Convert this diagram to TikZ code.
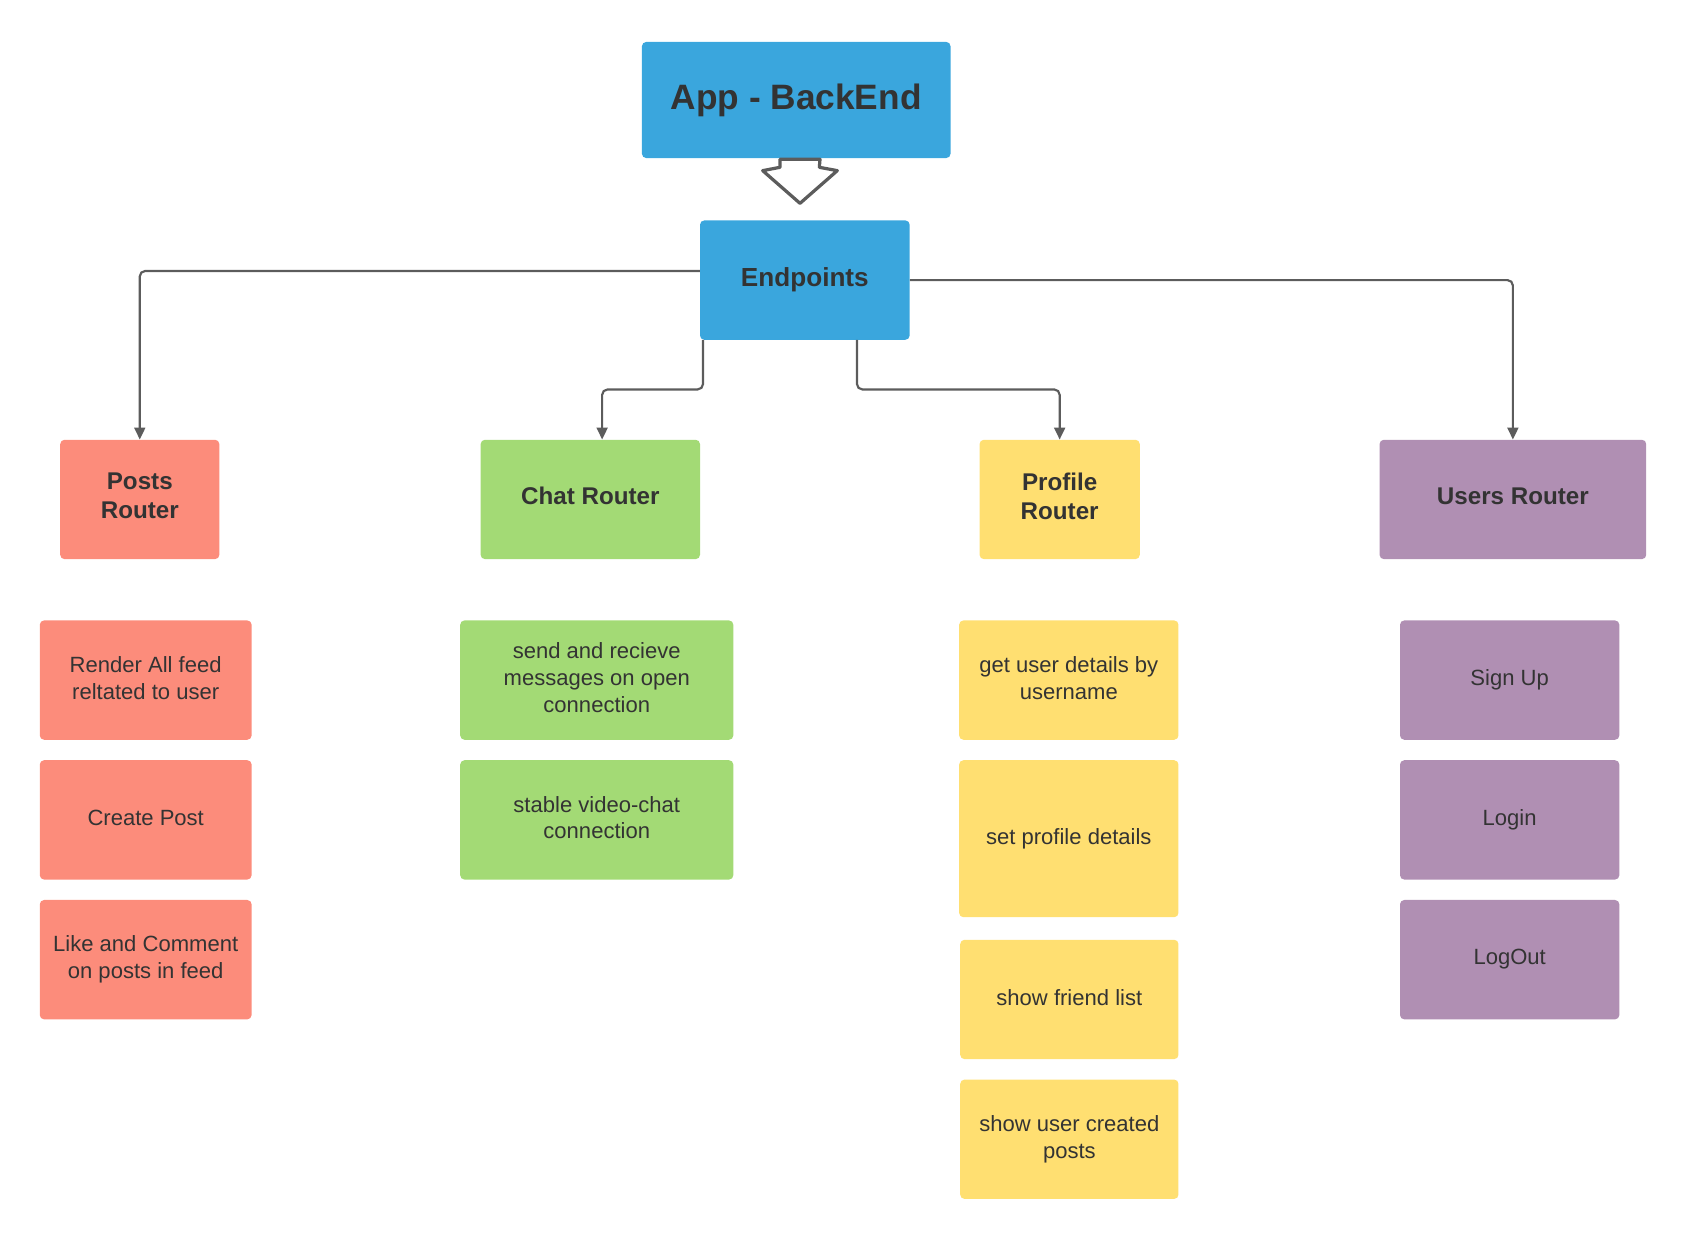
\documentclass[tikz,border=0pt]{standalone}
\usepackage{fontspec}
\setmainfont{Liberation Sans}
\usetikzlibrary{arrows.meta}
\definecolor{cblue}{HTML}{3AA6DD}
\definecolor{cred}{HTML}{FC8C7B}
\definecolor{cgreen}{HTML}{A3DA75}
\definecolor{cyellow}{HTML}{FFDF71}
\definecolor{cpurple}{HTML}{B08FB3}
\definecolor{ctext}{HTML}{333333}
\definecolor{cline}{HTML}{5C5C5C}
\tikzset{
  box/.style={rectangle, rounded corners=4pt, inner sep=0pt, align=center, text=ctext},
  router/.style={box, text depth=6.5pt, font=\fontsize{22.5}{27}\selectfont\bfseries},
  item/.style={box, text depth=4.5pt, font=\fontsize{20.5}{25}\selectfont},
  conn/.style={draw=cline, line width=2pt, rounded corners=5pt, -{Triangle[width=10pt,length=11pt]}},
}
\begin{document}
\begin{tikzpicture}[x=1pt,y=-1pt]
\useasboundingbox (0,0) rectangle (1568,1153);
% top
\node[box, fill=cblue, minimum width=287pt, minimum height=108pt, font=\fontsize{32.8}{38}\selectfont\bfseries] (app) at (740.5,93) {App - BackEnd};
\node[box, fill=cblue, minimum width=195pt, minimum height=111pt, font=\fontsize{24.3}{29}\selectfont\bfseries] (ep) at (748.5,260.5) {Endpoints};
% block arrow
\draw[cline, line width=3pt, line join=round, fill=white]
  (762.6,148.2) -- (762,155.6) -- (778.7,158.7) -- (744,189.1) -- (709.3,158.7) -- (725.4,155.6) -- (725.4,148.2) -- cycle;
% routers
\node[router, fill=cred, minimum width=148pt, minimum height=111pt] (posts) at (130,464.5) {Posts\\Router};
\node[router, fill=cgreen, minimum width=204pt, minimum height=111pt] (chat) at (549,464.5) {Chat Router};
\node[router, fill=cyellow, minimum width=149pt, minimum height=111pt] (prof) at (985.5,464.5) {Profile\\Router};
\node[router, fill=cpurple, minimum width=248pt, minimum height=111pt] (users) at (1407,464.5) {Users Router};
% connectors
\draw[conn] ([yshift=8.5pt]ep.west) -| (posts.north);
\draw[conn] (ep.east) -| (users.north);
\draw[conn] ([xshift=3pt]ep.south west) -- ++(0,46) -| ([xshift=11pt]chat.north);
\draw[conn] ([xshift=48.5pt]ep.south) -- ++(0,46) -| (prof.north);
% posts items
\node[item, fill=cred, minimum width=197pt, minimum height=111pt] (p1) at (135.5,632.5) {Render All feed\\reltated to user};
\node[item, fill=cred, minimum width=197pt, minimum height=111pt] (p2) at (135.5,762.5) {Create Post};
\node[item, fill=cred, minimum width=197pt, minimum height=111pt] (p3) at (135.5,892.5) {Like and Comment\\on posts in feed};
% chat items
\node[item, fill=cgreen, minimum width=254pt, minimum height=111pt] (c1) at (555,632.5) {send and recieve\\messages on open\\connection};
\node[item, fill=cgreen, minimum width=254pt, minimum height=111pt] (c2) at (555,762.5) {stable video-chat\\connection};
% profile items
\node[item, fill=cyellow, minimum width=204pt, minimum height=111pt] (r1) at (994,632.5) {get user details by\\username};
\node[item, fill=cyellow, minimum width=204pt, minimum height=146pt] (r2) at (994,780) {set profile details};
\node[item, fill=cyellow, minimum width=203pt, minimum height=111pt] (r3) at (994.5,929.5) {show friend list};
\node[item, fill=cyellow, minimum width=203pt, minimum height=111pt] (r4) at (994.5,1059.5) {show user created\\posts};
% users items
\node[item, fill=cpurple, minimum width=204pt, minimum height=111pt] (u1) at (1404,632.5) {Sign Up};
\node[item, fill=cpurple, minimum width=204pt, minimum height=111pt] (u2) at (1404,762.5) {Login};
\node[item, fill=cpurple, minimum width=204pt, minimum height=111pt] (u3) at (1404,892.5) {LogOut};
\end{tikzpicture}
\end{document}
